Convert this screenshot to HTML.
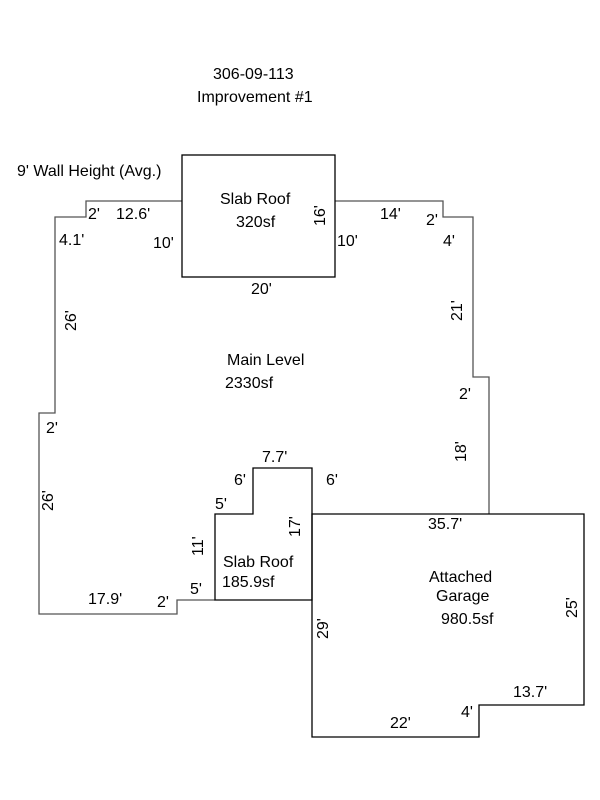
<!DOCTYPE html>
<html><head><meta charset="utf-8"><style>
html,body{margin:0;padding:0;background:#fff}
svg{display:block}
text{font-family:"Liberation Sans",Arial,sans-serif;font-size:16px;fill:#000}
</style></head><body>
<svg width="600" height="800" viewBox="0 0 600 800">
<g fill="none" stroke-width="1.3">
<polyline stroke="#555" points="182,201 86,201 86,217 55,217 55,413 39,413 39,614 177,614 177,600 215,600"/>
<polyline stroke="#555" points="335,201 443,201 443,217 473,217 473,377 489,377 489,514"/>
<rect x="182" y="155" width="153" height="122" stroke="#000"/>
<polygon stroke="#000" points="215,514 253,514 253,468 312,468 312,600 215,600"/>
<polygon stroke="#000" points="312,514 584,514 584,705 479,705 479,737 312,737"/>
</g>
<text x="213" y="79">306-09-113</text>
<text x="197" y="102">Improvement #1</text>
<text x="17" y="176">9' Wall Height (Avg.)</text>
<text x="220" y="204">Slab Roof</text>
<text x="236" y="227">320sf</text>
<text x="88" y="219">2'</text>
<text x="116" y="219">12.6'</text>
<text x="59" y="245">4.1'</text>
<text x="153" y="248">10'</text>
<text x="337" y="246">10'</text>
<text x="380" y="219">14'</text>
<text x="426" y="225">2'</text>
<text x="443" y="246">4'</text>
<text x="251" y="294">20'</text>
<text x="227" y="365">Main Level</text>
<text x="225" y="388">2330sf</text>
<text x="459" y="399">2'</text>
<text x="46" y="433">2'</text>
<text x="262" y="462">7.7'</text>
<text x="234" y="485">6'</text>
<text x="326" y="485">6'</text>
<text x="215" y="509">5'</text>
<text x="428" y="529">35.7'</text>
<text x="223" y="567">Slab Roof</text>
<text x="222" y="587">185.9sf</text>
<text x="429" y="582">Attached</text>
<text x="436" y="601">Garage</text>
<text x="441" y="624">980.5sf</text>
<text x="88" y="604">17.9'</text>
<text x="157" y="607">2'</text>
<text x="190" y="594">5'</text>
<text x="513" y="697">13.7'</text>
<text x="461" y="717">4'</text>
<text x="390" y="728">22'</text>
<g>
<text transform="translate(325,226) rotate(-90)">16'</text>
<text transform="translate(76,331) rotate(-90)">26'</text>
<text transform="translate(462,321) rotate(-90)">21'</text>
<text transform="translate(466,462) rotate(-90)">18'</text>
<text transform="translate(53,511) rotate(-90)">26'</text>
<text transform="translate(203,556) rotate(-90)">11'</text>
<text transform="translate(300,537) rotate(-90)">17'</text>
<text transform="translate(328,639) rotate(-90)">29'</text>
<text transform="translate(577,618) rotate(-90)">25'</text>
</g>
</svg>
</body></html>
